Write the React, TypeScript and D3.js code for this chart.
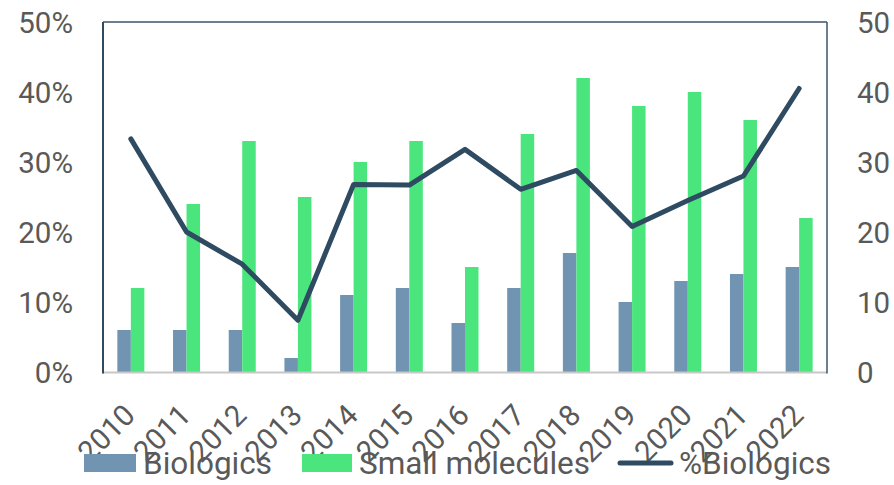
import React, { useEffect } from "react";
import * as d3 from "d3";

const years = ["2010","2011","2012","2013","2014","2015","2016","2017","2018","2019","2020","2021","2022"];
const biologics = [6, 6, 6, 2, 11, 12, 7, 12, 17, 10, 13, 14, 15];
const smallMolecules = [12, 24, 33, 25, 30, 33, 15, 34, 42, 38, 40, 36, 22];
const pctBiologics = [33.3, 20.0, 15.4, 7.4, 26.8, 26.7, 31.8, 26.1, 28.8, 20.8, 24.5, 28.0, 40.5];
const leftTicks = ["0%", "10%", "20%", "30%", "40%", "50%"];
const rightTicks = ["0", "10", "20", "30", "40", "50"];

const W = 894, H = 485;
const left = 103, right = 827, top = 22, bottom = 372;
const cBio = "#7094b2", cSmall = "#4ae57c", cLine = "#2f4b62", cText = "#595959";
const font = "Roboto, 'Noto Sans', sans-serif";

export default function App() {
  useEffect(() => { document.body.style.margin = "0"; }, []);
  const x = d3.scaleBand().domain(years).range([left, right]).padding(0);
  const y = d3.scaleLinear().domain([0, 50]).range([bottom, top]);
  const bw = 13.5;
  const line = d3.line<number>()
    .x((_, i) => (x(years[i]) as number) + x.bandwidth() / 2)
    .y((d) => y(d));
  return (
    <svg width={W} height={H} style={{ display: "block" }} fontFamily={font}>
      {years.map((yr, i) => {
        const cx = (x(yr) as number) + x.bandwidth() / 2;
        return (
          <g key={yr}>
            <rect x={cx - bw} y={y(biologics[i])} width={bw} height={bottom - y(biologics[i])} fill={cBio} />
            <rect x={cx} y={y(smallMolecules[i])} width={bw} height={bottom - y(smallMolecules[i])} fill={cSmall} />
          </g>
        );
      })}
      <line x1={left} x2={right} y1={bottom + 0.5} y2={bottom + 0.5} stroke="#c8c8c8" strokeWidth={2} />
      <line x1={left} x2={right} y1={top} y2={top} stroke="#3d5468" strokeWidth={1.5} />
      <line x1={right} x2={right} y1={top} y2={bottom + 1.5} stroke="#3d5468" strokeWidth={1.5} />
      <line x1={left} x2={left} y1={top} y2={bottom + 1.5} stroke={cLine} strokeWidth={2} />
      <path d={line(pctBiologics) || ""} fill="none" stroke={cLine} strokeWidth={5} strokeLinecap="round" strokeLinejoin="round" />
      {leftTicks.map((t, i) => (
        <text key={"l" + t} x={73} y={y(i * 10)} dy="0.36em" textAnchor="end" fontSize={29.5} fill={cText}>{t}</text>
      ))}
      {rightTicks.map((t, i) => (
        <text key={"r" + t} x={857} y={y(i * 10)} dy="0.36em" textAnchor="start" fontSize={29.5} fill={cText}>{t}</text>
      ))}
      {years.map((yr) => {
        const cx = (x(yr) as number) + x.bandwidth() / 2;
        return (
          <text key={"x" + yr} transform={`translate(${cx + 6},${417}) rotate(-45)`} textAnchor="end" fontSize={29.5} fill={cText}>{yr}</text>
        );
      })}
      <g>
        <rect x={84} y={454} width={52} height={18} fill={cBio} />
        <text x={143} y={474} fontSize={31.5} fill={cText}>Biologics</text>
        <rect x={302} y={454} width={50} height={18} fill={cSmall} />
        <text x={359} y={474} fontSize={31.5} fill={cText}>Small molecules</text>
        <line x1={620} x2={671} y1={463} y2={463} stroke={cLine} strokeWidth={5} strokeLinecap="round" />
        <text x={679} y={474} fontSize={31.5} fill={cText}>%Biologics</text>
      </g>
    </svg>
  );
}
